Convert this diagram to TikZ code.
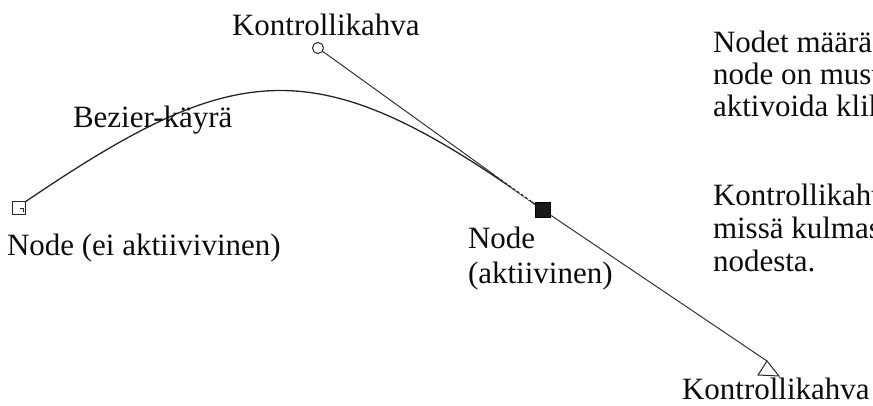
\documentclass[tikz,border=0pt]{standalone}
\usepackage{fontspec}
\setmainfont{Liberation Serif}
\begin{document}
\begin{tikzpicture}[x=1pt,y=-1pt,
  lbl/.style={anchor=base west,inner sep=0pt,outer sep=0pt,text=black!95,
    font=\fontsize{31}{35}\selectfont},
  curveline/.style={draw=black!85,line width=1.3pt},
  handleline/.style={draw=black!80,line width=1pt},
  handlemark/.style={draw=black!85,line width=1pt,fill=white}]
\useasboundingbox (0,0) rectangle (873,405);
\clip (0,0) rectangle (873,405);

% anchor points and handles
\coordinate (n0) at (19,208);
\coordinate (n1) at (543,210);
\coordinate (h0) at (240,56);
\coordinate (h1) at (318,48);
\coordinate (h2) at (767,361);

% the bezier curve itself
\draw[curveline] (25,202) .. controls (h0) and (h1) .. (n1);

% control handles
\draw[handleline] (h1) -- (n1);
\draw[handleline] (n1) -- (h2);
% dithered stretch where curve and handle meet
\draw[white,line width=2.6pt,dash pattern=on 2pt off 3pt] (496,174) -- (532,201);

\node[handlemark,circle,minimum size=11pt,inner sep=0pt] (c1) at (h1) {};
\draw[handlemark] (h2) -- (758,375) -- (779,376) -- cycle;

% nodes
\node[draw=black!85,line width=1pt,fill=white,minimum size=12.5pt,inner sep=0pt] (sq0) at (n0) {};
\draw[black!85,line width=0.9pt] (19.5,208) -- (23.5,208) -- (23.5,212);
\node[draw=black,fill=black!90,minimum size=15pt,inner sep=0pt] (sq1) at (n1) {};

% labels
\node[lbl] (t1) at (232,35) {Kontrollikahva};
\node[lbl] (t2) at (73,127) {Bezier-käyrä};
\node[lbl] (t3) at (7,255) {Node (ei aktiivivinen)};
\node[lbl] (t4) at (468,248) {Node};
\node[lbl] (t5) at (468,283) {(aktiivinen)};
\node[lbl] (t6) at (682,399) {Kontrollikahva};

% side note, running past the right edge
\node[lbl] (p1) at (713,52) {Nodet määrää};
\node[lbl] (p2) at (713,84) {node on musta};
\node[lbl] (p3) at (713,116) {aktivoida klikkaamalla};
\node[lbl] (p4) at (713,205) {Kontrollikahvat};
\node[lbl] (p5) at (713,238) {missä kulmassa};
\node[lbl] (p6) at (713,271) {nodesta.};
\end{tikzpicture}
\end{document}
